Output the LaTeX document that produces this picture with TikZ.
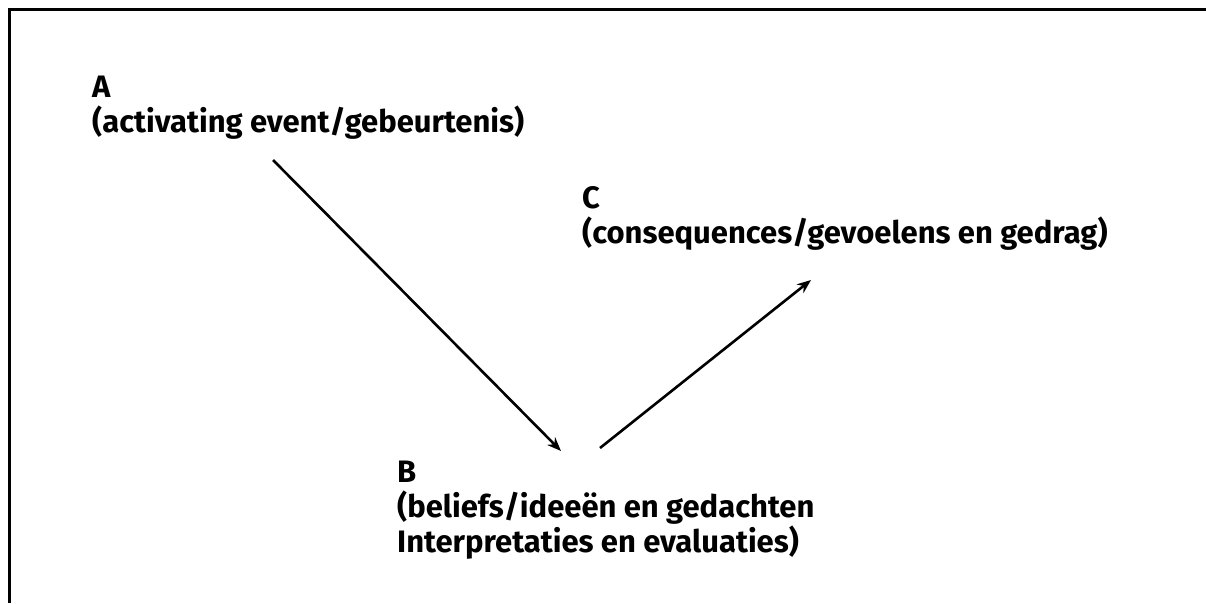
\documentclass[tikz,border=0pt]{standalone}
\usepackage{fontspec}
\setmainfont{Fira Sans}
\usetikzlibrary{arrows.meta}
\tikzset{
  label/.style={anchor=north west, inner sep=0pt, align=left, font=\fontsize{31}{35}\selectfont\bfseries},
  conn/.style={line width=2.6pt, -{Stealth[length=14pt,width=11pt]}},
}
\begin{document}
\begin{tikzpicture}[x=1pt,y=-1pt]
\useasboundingbox (0,0) rectangle (1206,603);
\draw[line width=3pt] (9.5,603) -- (9.5,9.5) -- (1206,9.5);
\node[label] (A) at (92,76) {A\\(activating event/gebeurtenis)};
\node[label] (C) at (582,186) {C\\(consequences/gevoelens en gedrag)};
\node[label] (B) at (397,461) {B\\(beliefs/ideeën en gedachten\\Interpretaties en evaluaties)};
\coordinate (a1) at (273,160);
\coordinate (a2) at (561,451);
\coordinate (c1) at (600,448);
\coordinate (c2) at (811,280);
\draw[conn] (a1) -- (a2);
\draw[conn] (c1) -- (c2);
\end{tikzpicture}
\end{document}
